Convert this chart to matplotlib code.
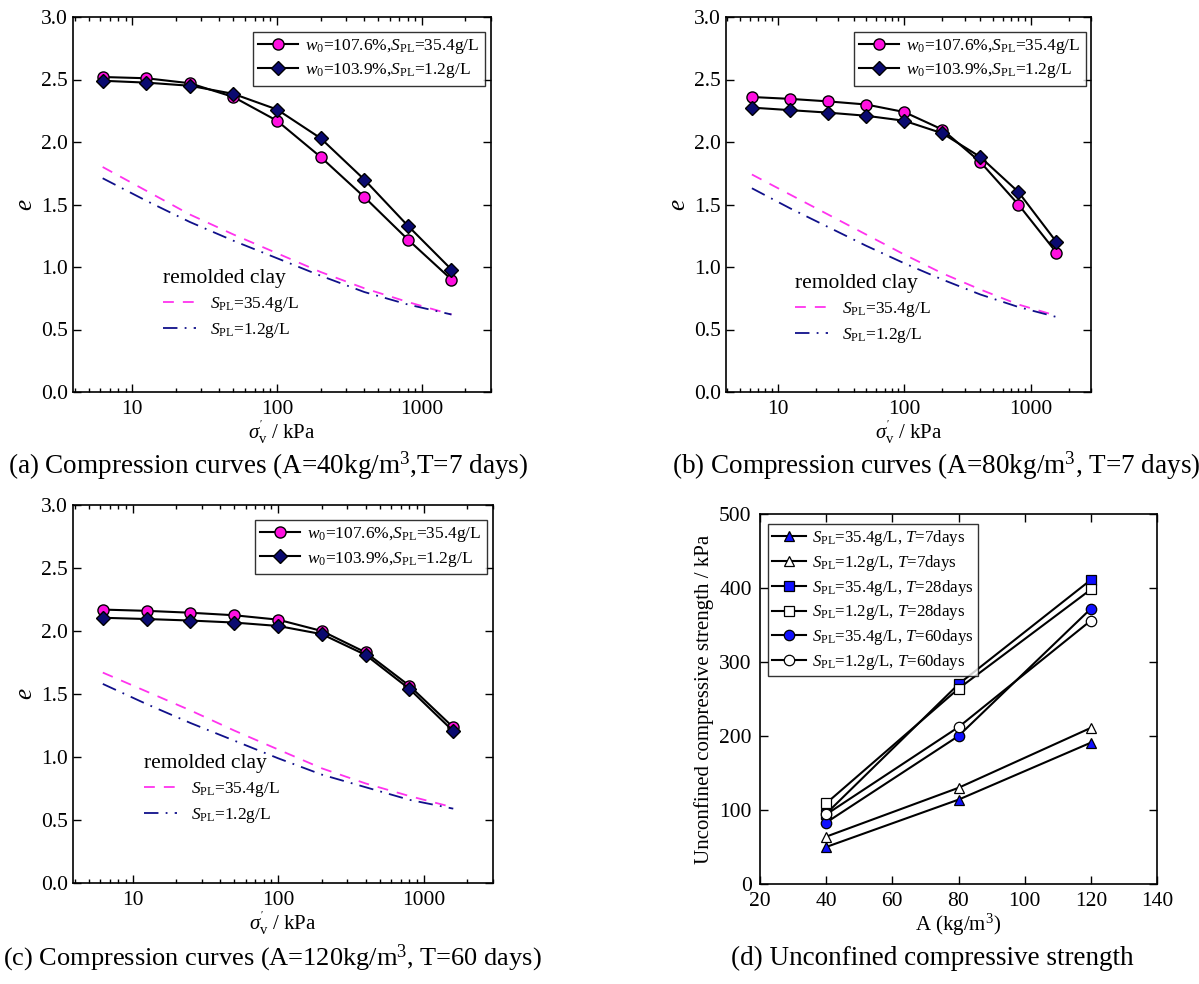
import matplotlib
matplotlib.use("Agg")
import matplotlib.pyplot as plt
from matplotlib.ticker import LogLocator, NullFormatter

plt.rcParams['font.family'] = ['Liberation Serif', 'DejaVu Serif']
plt.rcParams['mathtext.fontset'] = 'custom'
plt.rcParams['mathtext.rm'] = 'Liberation Serif'
plt.rcParams['mathtext.it'] = 'Liberation Serif:italic'
plt.rcParams['mathtext.bf'] = 'Liberation Serif:bold'

# ---------------- data ----------------
pressure = [6.25, 12.5, 25, 50, 100, 200, 400, 800, 1600]

# (a) A=40, T=7 days
a_high = [2.52, 2.51, 2.47, 2.36, 2.17, 1.88, 1.56, 1.22, 0.90]
a_low = [2.49, 2.475, 2.45, 2.385, 2.26, 2.03, 1.70, 1.33, 0.98]
a_rem_high = [1.80, 1.61, 1.42, 1.26, 1.11, 0.96, 0.83, 0.72, 0.62]
a_rem_low = [1.71, 1.53, 1.36, 1.21, 1.07, 0.93, 0.80, 0.70, 0.62]

# (b) A=80, T=7 days
b_high = [2.36, 2.345, 2.325, 2.30, 2.24, 2.10, 1.84, 1.50, 1.115]
b_low = [2.275, 2.255, 2.235, 2.21, 2.17, 2.07, 1.88, 1.60, 1.20]
b_rem_high = [1.74, 1.58, 1.42, 1.26, 1.10, 0.95, 0.82, 0.70, 0.61]
b_rem_low = [1.63, 1.47, 1.32, 1.17, 1.03, 0.90, 0.78, 0.68, 0.60]

# (c) A=120, T=60 days
c_high = [2.17, 2.16, 2.145, 2.125, 2.09, 2.00, 1.83, 1.565, 1.235]
c_low = [2.105, 2.095, 2.083, 2.067, 2.04, 1.975, 1.81, 1.54, 1.205]
c_rem_high = [1.67, 1.52, 1.37, 1.21, 1.06, 0.91, 0.79, 0.69, 0.60]
c_rem_low = [1.58, 1.42, 1.27, 1.13, 0.99, 0.86, 0.76, 0.66, 0.59]

# (d) unconfined compressive strength
cement = [40, 80, 120]
ucs_high_7 = [50, 114, 191]
ucs_low_7 = [64, 130, 211]
ucs_high_28 = [95, 270, 411]
ucs_low_28 = [109, 264, 398]
ucs_high_60 = [83, 200, 372]
ucs_low_60 = [94, 212, 356]

lab_high = r"$w_0$=107.6%,$S_{\rm PL}$=35.4g/L"
lab_low = r"$w_0$=103.9%,$S_{\rm PL}$=1.2g/L"
rem_lab_high = r"$S_{\rm PL}$=35.4g/L"
rem_lab_low = r"$S_{\rm PL}$=1.2g/L"
ucs_labels = [r"$S_{\rm PL}$=35.4g/L, $T$=7days",
              r"$S_{\rm PL}$=1.2g/L, $T$=7days",
              r"$S_{\rm PL}$=35.4g/L, $T$=28days",
              r"$S_{\rm PL}$=1.2g/L, $T$=28days",
              r"$S_{\rm PL}$=35.4g/L, $T$=60days",
              r"$S_{\rm PL}$=1.2g/L, $T$=60days"]

captions = [r"(a) Compression curves (A=40kg/m$^3$,T=7 days)",
            r"(b) Compression curves (A=80kg/m$^3$, T=7 days)",
            r"(c) Compression curves (A=120kg/m$^3$, T=60 days)",
            r"(d) Unconfined compressive strength"]

PINK = '#ff10e0'
PINK_LINE = '#ff33ee'
NAVY = '#0a0a70'
NAVY_LINE = '#10108a'
BLUE = '#1010ff'

W, H = 1199, 984
fig = plt.figure(figsize=(W / 100, H / 100), dpi=100)


def rect(l, r, t, b):
    return [l / W, 1 - b / H, (r - l) / W, (b - t) / H]


def style_axes(ax):
    ax.tick_params(which='both', direction='in', top=True, right=True,
                   labelsize=15.5, width=1.0)
    ax.tick_params(which='major', length=6)
    ax.tick_params(which='minor', length=3)
    ax.tick_params(axis='x', which='major', pad=6)
    for s in ax.spines.values():
        s.set_linewidth(1.2)


def compression(ax, high, low, rem_high, rem_low, rem_anchor):
    ax.plot(pressure, rem_high, ls=(0, (6, 5)), color=PINK_LINE, lw=1.3)
    ax.plot(pressure, rem_low, ls=(0, (8, 4, 1, 4)), color=NAVY_LINE, lw=1.3)
    h1, = ax.plot(pressure, high, '-', color='black', lw=1.5, marker='o',
                  ms=8, mfc=PINK, mec='black', mew=1.0, label=lab_high)
    h2, = ax.plot(pressure, low, '-', color='black', lw=1.5, marker='D',
                  ms=7.5, mfc=NAVY, mec='black', mew=1.0, label=lab_low)
    ax.set_xscale('log')
    ax.set_xlim(3.9, 3000)
    ax.set_ylim(0, 3.0)
    ax.set_yticks([0, 0.5, 1.0, 1.5, 2.0, 2.5, 3.0])
    ax.set_yticklabels(['0.0', '0.5', '1.0', '1.5', '2.0', '2.5', '3.0'])
    ax.set_xticks([10, 100, 1000])
    ax.set_xticklabels(['10', '100', '1000'])
    ax.xaxis.set_minor_locator(LogLocator(base=10, subs=range(2, 10)))
    ax.xaxis.set_minor_formatter(NullFormatter())
    style_axes(ax)
    ax.set_ylabel(r"$e$", fontsize=18, labelpad=3)
    ax.set_xlabel(r"$\sigma^{'}_{\rm v}$ / kPa", fontsize=15, labelpad=0)
    leg1 = ax.legend(handles=[h1, h2], loc='upper right',
                     bbox_to_anchor=(0.985, 0.96), fontsize=12.5,
                     frameon=True, fancybox=False, edgecolor='black',
                     handlelength=2.3, handletextpad=0.4, borderpad=0.3,
                     labelspacing=0.3, borderaxespad=0)
    leg1.get_frame().set_linewidth(1.0)
    ax.add_artist(leg1)
    r1 = plt.Line2D([], [], ls=(0, (6, 5)), color=PINK_LINE, lw=1.3)
    r2 = plt.Line2D([], [], ls=(0, (8, 4, 1, 4)), color=NAVY_LINE, lw=1.3)
    ax.legend(handles=[r1, r2], labels=[rem_lab_high, rem_lab_low],
              title='remolded clay', title_fontsize=15.5, fontsize=12.5,
              loc='upper left', bbox_to_anchor=rem_anchor, frameon=False,
              handlelength=1.9, handletextpad=0.8, labelspacing=0.4,
              alignment='left', borderaxespad=0, borderpad=0)


ax_a = fig.add_axes(rect(73, 491, 17, 392))
compression(ax_a, a_high, a_low, a_rem_high, a_rem_low, (0.215, 0.327))
ax_b = fig.add_axes(rect(726, 1091, 17, 392))
compression(ax_b, b_high, b_low, b_rem_high, b_rem_low, (0.19, 0.315))
ax_c = fig.add_axes(rect(73, 493, 505, 883))
compression(ax_c, c_high, c_low, c_rem_high, c_rem_low, (0.17, 0.34))

ax_d = fig.add_axes(rect(760, 1157, 514, 884))
series = [(ucs_high_7, '^', BLUE), (ucs_low_7, '^', 'white'),
          (ucs_high_28, 's', BLUE), (ucs_low_28, 's', 'white'),
          (ucs_high_60, 'o', BLUE), (ucs_low_60, 'o', 'white')]
for (vals, m, fc), lab in zip(series, ucs_labels):
    ax_d.plot(cement, vals, '-', color='black', lw=1.5, marker=m, ms=7.5,
              mfc=fc, mec='black', mew=0.9, label=lab)
ax_d.set_xlim(20, 140)
ax_d.set_ylim(0, 500)
ax_d.set_xticks([20, 40, 60, 80, 100, 120, 140])
ax_d.set_yticks([0, 100, 200, 300, 400, 500])
style_axes(ax_d)
ax_d.tick_params(axis='y', pad=6)
ax_d.set_xlabel(r"A (kg/m$^3$)", fontsize=15, labelpad=0)
ax_d.set_ylabel("Unconfined compressive strength / kPa", fontsize=15,
                labelpad=4)
legd = ax_d.legend(loc='upper left', bbox_to_anchor=(0.02, 0.973),
                   fontsize=12.2, frameon=True, fancybox=False,
                   edgecolor='black', handlelength=2.0, handletextpad=0.35,
                   borderpad=0.25, labelspacing=0.28, borderaxespad=0)
legd.get_frame().set_linewidth(1.0)

# captions
fig.text(268 / W, 1 - 466 / H, captions[0], ha='center', va='center', fontsize=19.5)
fig.text(936 / W, 1 - 466 / H, captions[1], ha='center', va='center', fontsize=19.5)
fig.text(3 / W, 1 - 958 / H, captions[2], ha='left', va='center', fontsize=19)
fig.text(932 / W, 1 - 958 / H, captions[3], ha='center', va='center', fontsize=19.5)

fig.savefig('out.png', dpi=100)
